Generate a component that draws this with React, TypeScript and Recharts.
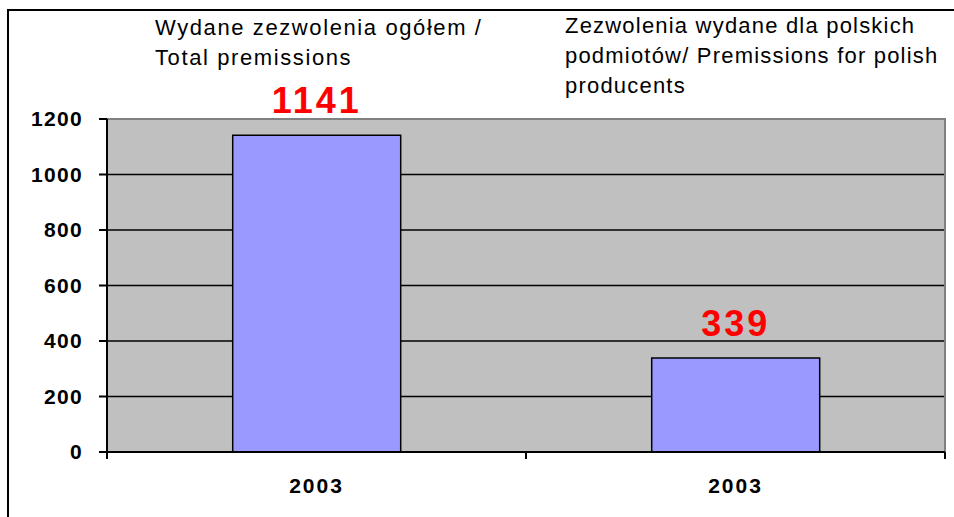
import { Bar, BarChart, CartesianGrid, LabelList, ReferenceArea, XAxis, YAxis } from "recharts";

const groups = ["Total premissions", "Premissions for polish producents"];
const years = ["2003", "2003"];
const permits = [1141, 339];
const yTicks = [0, 200, 400, 600, 800, 1000, 1200];

const data = groups.map((g, i) => ({ group: g, year: years[i], permits: permits[i] }));

const font = "Arial, 'Liberation Sans', sans-serif";

function YearTick(props: any) {
  const { x, y, payload } = props;
  const half = payload?.offset ?? 0;
  return (
    <g>
      {half > 0 && (
        <>
          <line x1={x - half} x2={x - half} y1={y} y2={y + 7} stroke="#000" strokeWidth={2} />
          <line x1={x + half} x2={x + half} y1={y} y2={y + 7} stroke="#000" strokeWidth={2} />
        </>
      )}
      <text
        x={x}
        y={y + 41}
        textAnchor="middle"
        fill="#000"
        fontSize={21}
        fontWeight="bold"
        fontFamily={font}
        letterSpacing={2}
      >
        {payload.value}
      </text>
    </g>
  );
}

const noteStyle: React.CSSProperties = {
  position: "absolute",
  fontFamily: font,
  fontSize: 22,
  lineHeight: "30px",
  color: "#000",
  whiteSpace: "nowrap",
};

export default function App() {
  return (
    <div style={{ position: "absolute", left: 0, top: 0, width: 954, height: 517, overflow: "hidden", background: "#fff" }}>
      <div
        style={{
          position: "absolute",
          left: 7,
          top: 9,
          width: 980,
          height: 540,
          border: "2px solid #000",
        }}
      />
      <BarChart
        width={954}
        height={517}
        data={data}
        margin={{ top: 119, right: 9, left: 0, bottom: 25 }}
        barCategoryGap="30%"
        style={{ position: "absolute", left: 0, top: 0 }}
      >
        <CartesianGrid vertical={false} fill="#C0C0C0" stroke="#000" strokeWidth={1.5} />
        <ReferenceArea y1={0} y2={1200} fill="none" stroke="#808080" strokeWidth={2} />
        <XAxis
          dataKey="year"
          height={40}
          tickLine={false}
          tickSize={0}
          tickMargin={0}
          axisLine={{ stroke: "#000", strokeWidth: 2 }}
          tick={<YearTick />}
          interval={0}
        />
        <YAxis
          width={107}
          domain={[0, 1200]}
          ticks={yTicks}
          interval={0}
          tickSize={8}
          tickMargin={16}
          axisLine={{ stroke: "#000", strokeWidth: 2 }}
          tickLine={{ stroke: "#000", strokeWidth: 2 }}
          tick={{ fill: "#000", fontSize: 21, fontWeight: "bold", fontFamily: font, letterSpacing: 1.3 }}
        />
        <Bar dataKey="permits" fill="#9999FF" stroke="#000" strokeWidth={1.5} isAnimationActive={false}>
          <LabelList
            dataKey="permits"
            position="top"
            offset={22}
            fill="#FF0000"
            fontSize={36}
            fontWeight="bold"
            fontFamily={font}
            letterSpacing={3}
          />
        </Bar>
      </BarChart>
      <div style={{ ...noteStyle, left: 155, top: 13, letterSpacing: 1.6 }}>
        Wydane zezwolenia ogółem /
        <br />
        Total premissions
      </div>
      <div style={{ ...noteStyle, left: 565, top: 11, letterSpacing: 1.2 }}>
        Zezwolenia wydane dla polskich
        <br />
        podmiotów/ Premissions for polish
        <br />
        producents
      </div>
    </div>
  );
}
